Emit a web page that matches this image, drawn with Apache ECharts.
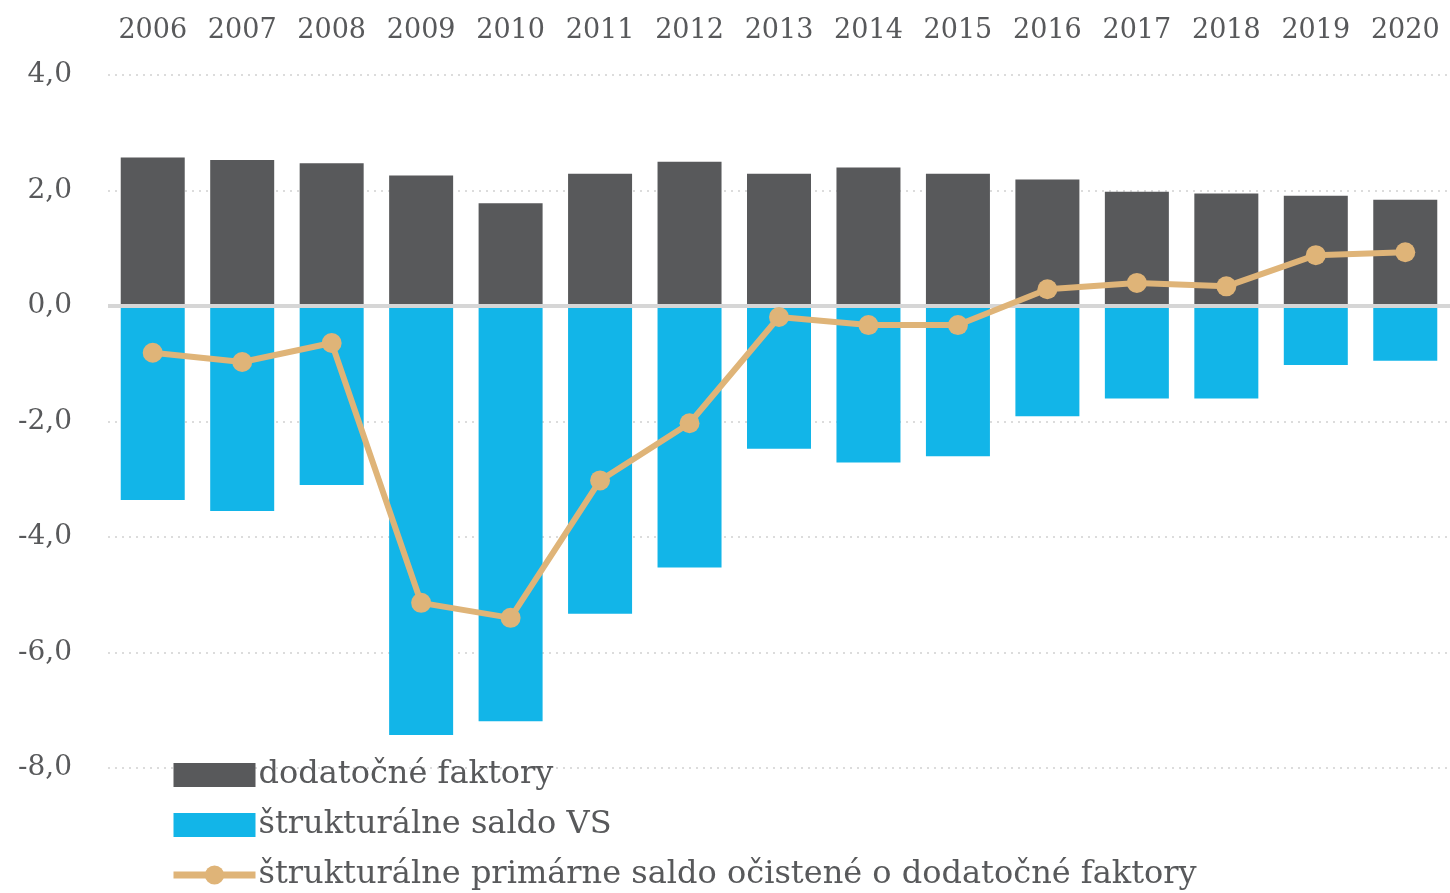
<html>
<head>
<meta charset="utf-8">
<script type="text/javascript" src="https://cdn.jsdelivr.net/npm/echarts@6/dist/echarts.min.js"></script>
<style>
  html, body { margin: 0; padding: 0; background: #fff; }
</style>
</head>
<body>
<div id="main" style="width: 1450px; height: 893px;"></div>
<script type="text/javascript">
// roky
var years = ['2006', '2007', '2008', '2009', '2010', '2011', '2012', '2013', '2014', '2015', '2016', '2017', '2018', '2019', '2020'];
// dodatočné faktory (% HDP)
var dodatocne = [2.57, 2.53, 2.47, 2.26, 1.78, 2.29, 2.50, 2.29, 2.40, 2.29, 2.19, 1.98, 1.95, 1.91, 1.84];
// štrukturálne saldo VS
var strukturalne = [-3.36, -3.55, -3.10, -7.43, -7.19, -5.33, -4.53, -2.47, -2.71, -2.60, -1.91, -1.60, -1.60, -1.02, -0.95];
// štrukturálne primárne saldo očistené o dodatočné faktory
var primarne = [-0.81, -0.97, -0.64, -5.14, -5.40, -3.02, -2.03, -0.19, -0.33, -0.33, 0.29, 0.40, 0.34, 0.88, 0.93];

var font = 'DejaVu Serif';
var txt = '#58595b';

var myChart = echarts.init(document.getElementById('main'));
myChart.setOption({
    animation: false,
    textStyle: { fontFamily: font },
    grid: { left: 108, right: 0, top: 75, bottom: 125 },
    legend: {
        orient: 'vertical',
        left: 170,
        top: 759,
        padding: 0,
        itemWidth: 82,
        itemHeight: 24,
        itemGap: 18,
        textStyle: { fontFamily: font, fontSize: 32, color: txt, padding: [0, 0, 0, -2] },
        data: [
            { name: 'dodatočné faktory', icon: 'rect' },
            { name: 'štrukturálne saldo VS', icon: 'rect' },
            { name: 'štrukturálne primárne saldo očistené o dodatočné faktory', lineStyle: { width: 7 } }
        ]
    },
    xAxis: {
        type: 'category',
        position: 'top',
        data: years,
        axisLine: { show: false },
        axisTick: { show: false },
        axisLabel: { interval: 0, fontFamily: font, fontSize: 27, color: txt, margin: 31 }
    },
    yAxis: {
        type: 'value',
        min: -8,
        max: 4,
        interval: 2,
        axisLine: { show: false },
        axisTick: { show: false },
        axisLabel: {
            fontFamily: font, fontSize: 28, color: txt, margin: 36,
            formatter: function (v) { return v.toFixed(1).replace('.', ','); }
        },
        splitLine: { lineStyle: { color: '#dcdcdc', width: 2, type: [2, 5] } }
    },
    series: [
        {
            name: 'dodatočné faktory',
            type: 'bar',
            stack: 'a',
            barWidth: 64,
            itemStyle: { color: '#58595b' },
            data: dodatocne,
            markLine: {
                silent: true,
                symbol: 'none',
                label: { show: false },
                lineStyle: { color: '#d6d6d6', width: 4, type: 'solid' },
                data: [{ yAxis: 0 }]
            }
        },
        {
            name: 'štrukturálne saldo VS',
            type: 'bar',
            stack: 'a',
            barWidth: 64,
            itemStyle: { color: '#12b5e8' },
            data: strukturalne
        },
        {
            name: 'štrukturálne primárne saldo očistené o dodatočné faktory',
            type: 'line',
            symbol: 'circle',
            symbolSize: 20,
            z: 5,
            lineStyle: { color: '#dfb478', width: 6 },
            itemStyle: { color: '#dfb478' },
            data: primarne
        }
    ]
});
</script>
</body>
</html>
